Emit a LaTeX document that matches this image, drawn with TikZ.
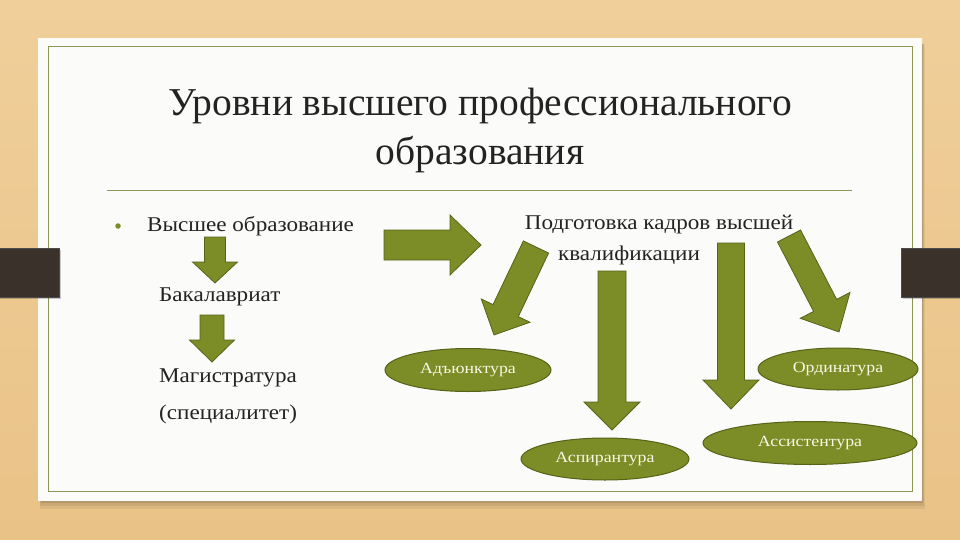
\documentclass[tikz,border=0pt]{standalone}
\usepackage{fontspec}
\setmainfont{Liberation Serif}
\newfontfamily\bodyfont[FakeStretch=1.1]{Liberation Serif}
\newfontfamily\ovalfont[FakeStretch=1.15]{Liberation Serif}
\usetikzlibrary{calc,shapes.geometric}
\definecolor{wood}{RGB}{233,194,135}
\definecolor{woodlight}{RGB}{240,207,154}
\definecolor{olive}{RGB}{124,140,38}
\definecolor{olivedark}{RGB}{86,100,24}
\definecolor{framec}{RGB}{140,150,85}
\definecolor{tabc}{RGB}{58,50,42}
\definecolor{cardc}{RGB}{251,251,250}
\definecolor{ink}{RGB}{35,35,35}
\definecolor{cream}{RGB}{250,248,228}
\tikzset{
 blockarrow/.style={fill=olive,draw=olivedark,line width=0.8pt,line join=miter},
 oval/.style={ellipse,fill=olive,draw=olivedark,line width=1pt,text=cream,font=\ovalfont\fontsize{15.5}{18}\selectfont,inner sep=0pt},
 bodytext/.style={text=ink,font=\bodyfont\fontsize{21}{25}\selectfont,inner sep=0pt},
 titletext/.style={text=ink,font=\fontsize{39.5}{48}\selectfont,inner sep=0pt},
 tabbox/.style={fill=tabc,draw=black!70,line width=0.6pt},
}
\newcommand\barrow[5]{%
 \path let \p1=(#1),\p2=(#2),\n1={atan2(\y2-\y1,\x2-\x1)},\n2={veclen(\x2-\x1,\y2-\y1)} in
   \pgfextra{\xdef\baang{\n1}\xdef\balen{\n2}\xdef\bax{\x1}\xdef\bay{\y1}};
 \filldraw[blockarrow,shift={(\bax,\bay)},rotate=\baang]
   (0pt,#3pt) -- (\balen-#5pt,#3pt) -- (\balen-#5pt,#4pt) -- (\balen,0pt)
   -- (\balen-#5pt,-#4pt) -- (\balen-#5pt,-#3pt) -- (0pt,-#3pt) -- cycle;}
\begin{document}
\begin{tikzpicture}[x=1pt,y=-1pt]
\useasboundingbox (0,0) rectangle (960,540);
% background
\shade[top color=woodlight,bottom color=wood] (0,0) rectangle (960,540);
% card shadow
\fill[black,opacity=0.06] (40,44) rectangle (925,509);
\fill[black,opacity=0.08] (40,44) rectangle (924,506);
\fill[black,opacity=0.10] (41,44) rectangle (923,503);
% card
\fill[cardc] (37.5,38) rectangle (922,501);
\draw[framec,line width=1pt] (48,47) rectangle (912,491);
% tabs
\fill[black,opacity=0.2] (0,250) rectangle (61,299);
\filldraw[tabbox] (-2,248) rectangle (59,297);
\fill[black,opacity=0.2] (903,250) rectangle (962,299);
\filldraw[tabbox] (901,248) rectangle (962,297);
% title
\node[titletext] (t1) at (480,106) {Уровни высшего профессионального};
\node[titletext] (t2) at (480,155) {образования};
\draw[framec,line width=0.8pt] (107,190) -- (852,190);
% left column
\node[circle,fill=olive,inner sep=0pt,minimum size=5.5pt] (bul) at (118,226) {};
\node[bodytext,anchor=west] (vo) at (147,226) {Высшее образование};
\node[bodytext,anchor=west] (bak) at (159,297) {Бакалавриат};
\node[bodytext,anchor=west] (mag) at (159,378) {Магистратура};
\node[bodytext,anchor=west] (spec) at (159,414) {(специалитет)};
% right heading
\node[bodytext] (pk1) at (659,225) {Подготовка кадров высшей};
\node[bodytext] (pk2) at (629,255) {квалификации};
% ovals
\node[oval,minimum width=166,minimum height=43] (adj) at (468,370) {Адъюнктура};
\node[oval,minimum width=168,minimum height=42] (asp) at (605,459) {Аспирантура};
\node[oval,minimum width=214,minimum height=43] (ass) at (810,443) {Ассистентура};
\node[oval,minimum width=160,minimum height=42] (ord) at (838,369) {Ординатура};
% arrow coordinates
\coordinate (a1s) at (215,237); \coordinate (a1e) at (215,283);
\coordinate (a2s) at (212,315); \coordinate (a2e) at (212,362);
\coordinate (a3s) at (384,245); \coordinate (a3e) at (481,245);
\coordinate (a4s) at (536,247); \coordinate (a4e) at (494,335);
\coordinate (a5s) at (612,271); \coordinate (a5e) at (612,430);
\coordinate (a6s) at (731,243); \coordinate (a6e) at (731,409);
\coordinate (a7s) at (789,236); \coordinate (a7e) at (839,332);
\barrow{a1s}{a1e}{10.5}{22.5}{21}
\barrow{a2s}{a2e}{12}{22.5}{22}
\barrow{a3s}{a3e}{15}{30}{31}
\barrow{a4s}{a4e}{14}{27}{27}
\barrow{a5s}{a5e}{14}{28}{28}
\barrow{a6s}{a6e}{13.5}{28}{29}
\barrow{a7s}{a7e}{13}{28}{30}
\end{tikzpicture}
\end{document}
